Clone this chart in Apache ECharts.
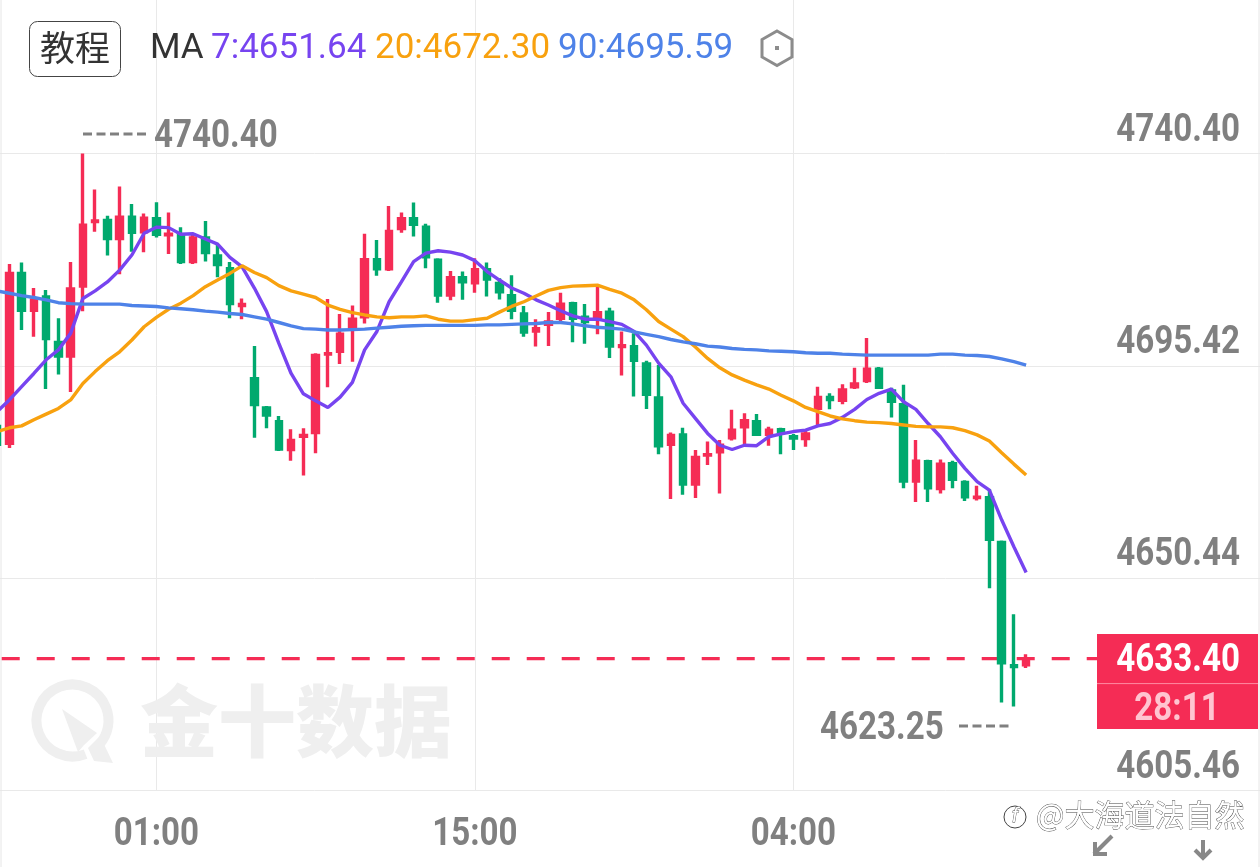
<!DOCTYPE html>
<html>
<head>
<meta charset="utf-8">
<title>行情K线</title>
<style>html,body{margin:0;padding:0;background:#fff}#kline{width:1260px;height:867px}</style>
<script src="https://cdn.jsdelivr.net/npm/echarts@6/dist/echarts.min.js"></script>
</head>
<body>
<div id="kline"></div>
<script>
// 30-minute candles as [open, close, low, high]
const candles = [
[4682.6,4678.8,4677.6,4684.0],[4679.0,4715.0,4678.0,4717.0],[4715.0,4707.2,4703.0,4717.3],[4707.2,4709.4,4701.6,4711.9],
[4710.0,4701.2,4690.5,4711.5],[4700.4,4697.5,4693.6,4705.5],[4697.5,4711.7,4689.9,4717.4],[4712.3,4725.2,4707.0,4740.4],
[4726.0,4726.1,4723.8,4732.8],[4726.2,4722.4,4718.8,4727.2],[4722.4,4726.9,4714.8,4733.4],[4726.9,4723.7,4719.6,4729.7],
[4723.8,4726.7,4719.5,4727.7],[4726.6,4723.3,4722.6,4730.1],[4723.2,4723.3,4719.1,4727.9],[4723.2,4717.5,4717.0,4724.8],
[4717.5,4722.5,4717.0,4723.4],[4722.5,4719.4,4717.5,4726.1],[4718.7,4716.9,4714.2,4721.2],[4716.0,4708.6,4705.5,4717.4],
[4708.2,4708.4,4705.3,4709.7],[4692.7,4687.2,4680.2,4699.6],[4686.5,4685.0,4682.2,4686.9],[4683.6,4677.8,4677.4,4684.8],
[4677.7,4679.6,4675.3,4682.0],[4680.5,4680.7,4672.2,4682.2],[4681.3,4697.6,4676.9,4698.1],[4697.9,4698.0,4690.9,4709.6],
[4698.5,4702.1,4695.8,4706.4],[4703.3,4705.3,4696.3,4708.2],[4705.8,4717.9,4704.4,4723.4],[4717.9,4716.0,4714.5,4722.1],
[4716.0,4723.9,4715.5,4729.3],[4724.5,4726.6,4723.6,4727.9],[4726.6,4725.4,4722.8,4730.0],[4724.8,4718.5,4716.1,4725.5],
[4717.8,4710.4,4708.8,4718.2],[4710.4,4714.1,4709.3,4715.5],[4714.1,4713.2,4709.4,4715.4],[4713.0,4715.8,4710.9,4718.2],
[4715.8,4713.8,4710.1,4717.3],[4712.9,4711.1,4709.5,4714.0],[4710.3,4707.2,4705.3,4714.6],[4706.4,4702.6,4701.6,4708.1],
[4702.8,4703.3,4699.5,4705.3],[4704.2,4704.7,4699.6,4706.8],[4705.5,4708.5,4704.8,4710.9],[4708.6,4705.5,4700.4,4709.0],
[4705.7,4704.8,4700.1,4708.5],[4705.5,4706.7,4702.1,4712.2],[4706.8,4699.6,4697.1,4707.7],[4699.5,4699.7,4693.4,4702.7],
[4699.5,4696.6,4688.9,4702.3],[4695.8,4689.4,4686.3,4696.5],[4688.6,4678.5,4676.7,4695.6],[4678.8,4680.7,4667.2,4681.3],
[4680.8,4670.4,4668.1,4682.3],[4670.4,4676.0,4667.4,4677.6],[4676.5,4676.6,4674.4,4679.4],[4677.2,4678.6,4668.4,4679.7],
[4680.2,4681.8,4679.6,4686.1],[4682.5,4683.8,4678.8,4685.4],[4683.6,4680.9,4680.6,4685.2],[4680.9,4681.8,4678.5,4682.5],
[4681.9,4681.3,4676.7,4682.3],[4680.4,4680.1,4677.6,4681.0],[4680.0,4681.0,4678.3,4681.6],[4686.4,4688.7,4682.9,4691.0],
[4688.7,4688.3,4686.2,4689.6],[4688.1,4690.3,4687.3,4691.5],[4691.0,4691.6,4690.5,4695.0],[4692.3,4694.7,4691.8,4701.3],
[4694.7,4690.9,4690.5,4695.2],[4690.1,4687.9,4684.5,4690.8],[4687.2,4671.0,4669.5,4691.4],[4671.0,4675.2,4666.6,4679.7],
[4675.1,4669.6,4666.6,4675.5],[4669.4,4674.6,4668.4,4675.6],[4674.7,4671.4,4669.5,4675.3],[4670.7,4667.7,4666.8,4671.2],
[4667.5,4667.6,4666.9,4670.0],[4667.5,4658.7,4648.3,4669.3],[4658.0,4632.5,4624.1,4658.4],[4631.9,4631.7,4623.25,4642.8],
[4632.1,4633.4,4631.4,4634.3]
];
const ma7 = [
4685.7,4688.2,4691.0,4693.8,4696.7,4698.8,4702.3,4709.7,4711.3,4713.2,4715.7,4718.9,4723.5,4724.8,4724.7,4723.3,4723.4,
4722.3,4721.2,4718.4,4716.4,4711.9,4706.9,4700.2,4693.8,4689.5,4688.0,4686.6,4688.8,4691.9,4698.8,4702.7,4709.0,4713.2,
4717.5,4719.3,4719.8,4719.5,4718.9,4717.7,4715.4,4713.6,4711.9,4710.8,4709.4,4708.3,4707.1,4706.0,4705.3,4705.3,4704.8,
4704.2,4702.7,4699.8,4696.0,4693.1,4687.5,4684.3,4681.1,4678.6,4677.7,4678.6,4678.5,4680.4,4681.0,4681.5,4681.8,4682.7,
4683.2,4684.5,4686.2,4688.3,4689.6,4690.5,4687.8,4686.2,4683.2,4680.4,4676.9,4673.7,4670.9,4669.1,4662.8,4657.1,4651.64
];
const ma20 = [
4681.5,4682.3,4682.7,4684.0,4685.2,4686.4,4688.2,4691.7,4694.2,4696.5,4698.4,4700.9,4703.7,4705.7,4707.4,4708.7,4710.3,
4712.2,4713.6,4715.0,4716.6,4715.2,4714.1,4712.4,4711.3,4710.6,4709.9,4708.3,4707.4,4706.7,4706.2,4705.8,4705.6,4705.8,
4705.8,4706.0,4705.3,4704.9,4704.9,4705.2,4705.5,4706.8,4708.0,4709.0,4710.2,4711.4,4712.0,4712.3,4712.4,4712.5,4711.6,
4710.8,4709.4,4707.3,4704.8,4703.2,4701.6,4699.4,4697.0,4695.0,4693.5,4692.4,4691.4,4690.5,4689.2,4688.0,4686.6,4685.7,
4684.8,4684.2,4683.8,4683.5,4683.4,4683.2,4682.9,4682.6,4682.5,4682.5,4682.3,4681.7,4680.8,4679.5,4677.0,4674.6,4672.30
];
const ma90 = [
4711.3,4710.8,4710.3,4709.9,4709.4,4708.8,4708.6,4708.5,4708.5,4708.5,4708.5,4708.2,4708.1,4708.0,4707.7,4707.5,4707.3,
4707.0,4706.8,4706.5,4706.3,4705.8,4705.3,4704.6,4703.9,4703.3,4703.2,4703.0,4703.0,4703.1,4703.2,4703.4,4703.6,4703.8,
4703.9,4704.0,4704.0,4704.0,4704.0,4704.0,4704.1,4704.1,4704.2,4704.3,4704.4,4704.6,4704.6,4704.3,4703.9,4703.6,4703.4,
4703.2,4702.6,4702.1,4701.6,4701.0,4700.5,4700.1,4699.6,4699.4,4699.1,4698.9,4698.8,4698.6,4698.5,4698.4,4698.2,4698.1,
4698.1,4697.9,4697.8,4697.7,4697.7,4697.7,4697.7,4697.7,4697.7,4697.9,4697.9,4697.7,4697.6,4697.4,4696.9,4696.3,4695.59
];
const priceTicks = [4605.46, 4650.44, 4695.42, 4740.40];
const timeTickIndex = [13, 39, 65];
const timeTickLabels = ['01:00', '15:00', '04:00'];
const lastPrice = 4633.40;
const countdown = '28:11';
const highPrice = 4740.40;
const lowPrice = 4623.25;
const axisBottom = 4605.46;
const axisTop = 4772.92;
const slotCount = 104;
const priceLineSlots = 91;

const RED = '#F52C55', GREEN = '#00A96E', GRAY = '#808080', GRID = '#e9e9e9';
const PURPLE = '#7744F0', ORANGE = '#F8A10F', BLUE = '#4E82E8';
const NUM_FONT = 'bold 39px Roboto, sans-serif';
const NUM_SQUEEZE = 0.85;

const categories = Array.from({length: slotCount}, (_, i) => {
  const t = timeTickIndex.indexOf(i);
  return t >= 0 ? timeTickLabels[t] : 'k' + i;
});
const isTimeTick = i => timeTickIndex.indexOf(i) >= 0;
const maLine = (name, data, color) => ({
  name, type: 'line', data, z: 5, showSymbol: false, symbol: 'none', silent: true,
  lineStyle: {color, width: 3.4}, itemStyle: {color}, clip: true
});

const chart = echarts.init(document.getElementById('kline'), null, {renderer: 'canvas'});
chart.setOption({
  animation: false,
  backgroundColor: '#fff',
  grid: {left: -9, top: 0, width: 1274, height: 790.5, containLabel: false, outerBoundsMode: 'none'},
  xAxis: {
    type: 'category', data: categories, boundaryGap: true,
    axisLine: {show: false}, axisTick: {show: false}, axisLabel: {show: false},
    splitLine: {show: true, interval: i => isTimeTick(i), alignWithLabel: true, lineStyle: {color: GRID, width: 1}}
  },
  yAxis: {
    type: 'value', position: 'right', min: axisBottom, max: axisTop, scale: true,
    axisLine: {show: false}, axisLabel: {show: false},
    axisTick: {show: false, customValues: priceTicks},
    splitLine: {show: true, lineStyle: {color: GRID, width: 1}}
  },
  series: [
    {
      name: '最新价', type: 'line', z: 1, symbol: 'none', silent: true,
      data: categories.slice(0, priceLineSlots).map(() => lastPrice),
      lineStyle: {color: RED, width: 3.2, type: [18, 17], dashOffset: 30.4}
    },
    {
      name: 'K线', type: 'candlestick', z: 3, data: candles, barWidth: 6,
      itemStyle: {color: RED, color0: GREEN, borderColor: RED, borderColor0: GREEN, borderWidth: 3.4}
    },
    maLine('MA7', ma7, PURPLE),
    maLine('MA20', ma20, ORANGE),
    maLine('MA90', ma90, BLUE)
  ]
});

const py = v => chart.convertToPixel({yAxisIndex: 0}, v);
const px = i => chart.convertToPixel({xAxisIndex: 0}, i);
const lastY = py(lastPrice), highY = py(highPrice), lowY = py(lowPrice);
const text = (x, y, str, fill, font, align, extra) => ({
  type: 'text', x, y, z: 20, silent: true,
  style: Object.assign({text: str, fill, font, align: align || 'left', verticalAlign: 'middle'}, extra || {})
});
// Narrow numerals: the digits are squeezed sideways about their anchor point
const num = (x, y, str, fill, align) => Object.assign(text(x, y, str, fill, NUM_FONT, align), {scaleX: NUM_SQUEEZE});
const dashes = (x1, x2, y) => ({
  type: 'line', z: 20, silent: true, shape: {x1, y1: y, x2, y2: y},
  style: {stroke: GRAY, lineWidth: 3, lineDash: [9, 4.5]}
});
const headFont = '35px Roboto, sans-serif';
const lastMA7 = ma7[ma7.length - 1], lastMA20 = ma20[ma20.length - 1], lastMA90 = ma90[ma90.length - 1];

chart.setOption({
  graphic: {elements: [
    // Outer frame
    {type: 'line', z: 1, silent: true, shape: {x1: 1, y1: 0, x2: 1, y2: 867}, style: {stroke: '#e6e6e6', lineWidth: 1}},
    {type: 'line', z: 1, silent: true, shape: {x1: 1259, y1: 0, x2: 1259, y2: 867}, style: {stroke: '#e6e6e6', lineWidth: 1}},

    // Brand watermark
    {type: 'arc', z: 0, silent: true, shape: {cx: 72.5, cy: 720.5, r: 36, startAngle: 1.2, endAngle: 0.72, clockwise: true},
      style: {stroke: '#efefef', fill: null, lineWidth: 10}},
    {type: 'polygon', z: 0, silent: true, shape: {points: [[62, 709], [97, 733], [84, 745], [78, 752]]}, style: {fill: '#efefef'}},
    {type: 'polygon', z: 0, silent: true, shape: {points: [[100, 736], [113, 763], [94, 761], [88, 748]]}, style: {fill: '#efefef'}},
    text(296, 721, '金十数据', '#efefef', '900 78px "Noto Sans CJK SC", sans-serif', 'center', {}),

    // Header controls and moving-average legend
    {type: 'rect', z: 20, silent: true, shape: {x: 29.5, y: 21.5, width: 91, height: 55, r: 8}, style: {fill: '#fff', stroke: '#444', lineWidth: 1}},
    text(75, 48, '教程', '#333', '35px "Noto Sans CJK SC", sans-serif', 'center'),
    text(150, 49, 'MA', '#333', headFont),
    text(211, 49, '7:' + lastMA7.toFixed(2), PURPLE, headFont),
    text(375, 49, '20:' + lastMA20.toFixed(2), ORANGE, headFont),
    text(558, 49, '90:' + lastMA90.toFixed(2), BLUE, headFont),
    {type: 'polygon', z: 20, silent: true, shape: {points: [[777, 31], [792, 39.5], [792, 57], [777, 65.5], [762, 57], [762, 39.5]]},
      style: {fill: null, stroke: '#8c8c8c', lineWidth: 3}},
    {type: 'rect', z: 20, silent: true, shape: {x: 775, y: 46, width: 4, height: 4}, style: {fill: '#8c8c8c'}},

    // Price scale and time scale labels
    ...priceTicks.map(v => num(1240, py(v) - 22.5, v.toFixed(2), GRAY, 'right')),
    ...timeTickIndex.map((i, k) => num(px(i), 835, timeTickLabels[k], GRAY, 'center')),

    // High and low callouts
    dashes(83, 148, highY - 19.5),
    num(154, highY - 16.5, highPrice.toFixed(2), GRAY),
    num(820, lowY + 22.5, lowPrice.toFixed(2), GRAY),
    dashes(959, 1009, lowY + 19.5),

    // Last price tag
    {type: 'rect', z: 20, silent: true, shape: {x: 1097, y: lastY - 24.5, width: 161, height: 95}, style: {fill: RED}},
    {type: 'line', z: 21, silent: true, shape: {x1: 1097, y1: lastY + 25, x2: 1258, y2: lastY + 25}, style: {stroke: '#ff8ca3', lineWidth: 1}},
    Object.assign(num(1240, lastY + 2.5, lastPrice.toFixed(2), '#fff', 'right'), {z: 22}),
    Object.assign(num(1177, lastY + 52, countdown, '#ffc4d0', 'center'), {z: 22}),

    // Source mark in the corner
    text(1036, 815, '@大海道法自然', '#fff', '30px "Noto Sans CJK SC", sans-serif', 'left', {stroke: '#444', lineWidth: 0.8}),
    {type: 'circle', z: 20, silent: true, shape: {cx: 1015, cy: 817, r: 11}, style: {fill: '#fff', stroke: '#444', lineWidth: 1}},
    text(1015, 817, 'f', '#fff', 'italic 20px Roboto, sans-serif', 'center', {stroke: '#444', lineWidth: 0.8}),
    {type: 'polyline', z: 19, silent: true, shape: {points: [[1094, 854], [1112, 836]]}, style: {stroke: '#888', lineWidth: 4, fill: null}},
    {type: 'polyline', z: 19, silent: true, shape: {points: [[1095, 842], [1095, 854], [1107, 854]]}, style: {stroke: '#888', lineWidth: 4, fill: null}},
    {type: 'polyline', z: 19, silent: true, shape: {points: [[1203, 840], [1203, 858]]}, style: {stroke: '#888', lineWidth: 4, fill: null}},
    {type: 'polyline', z: 19, silent: true, shape: {points: [[1195, 850], [1203, 858], [1211, 850]]}, style: {stroke: '#888', lineWidth: 4, fill: null}}
  ]}
});
</script>
</body>
</html>
